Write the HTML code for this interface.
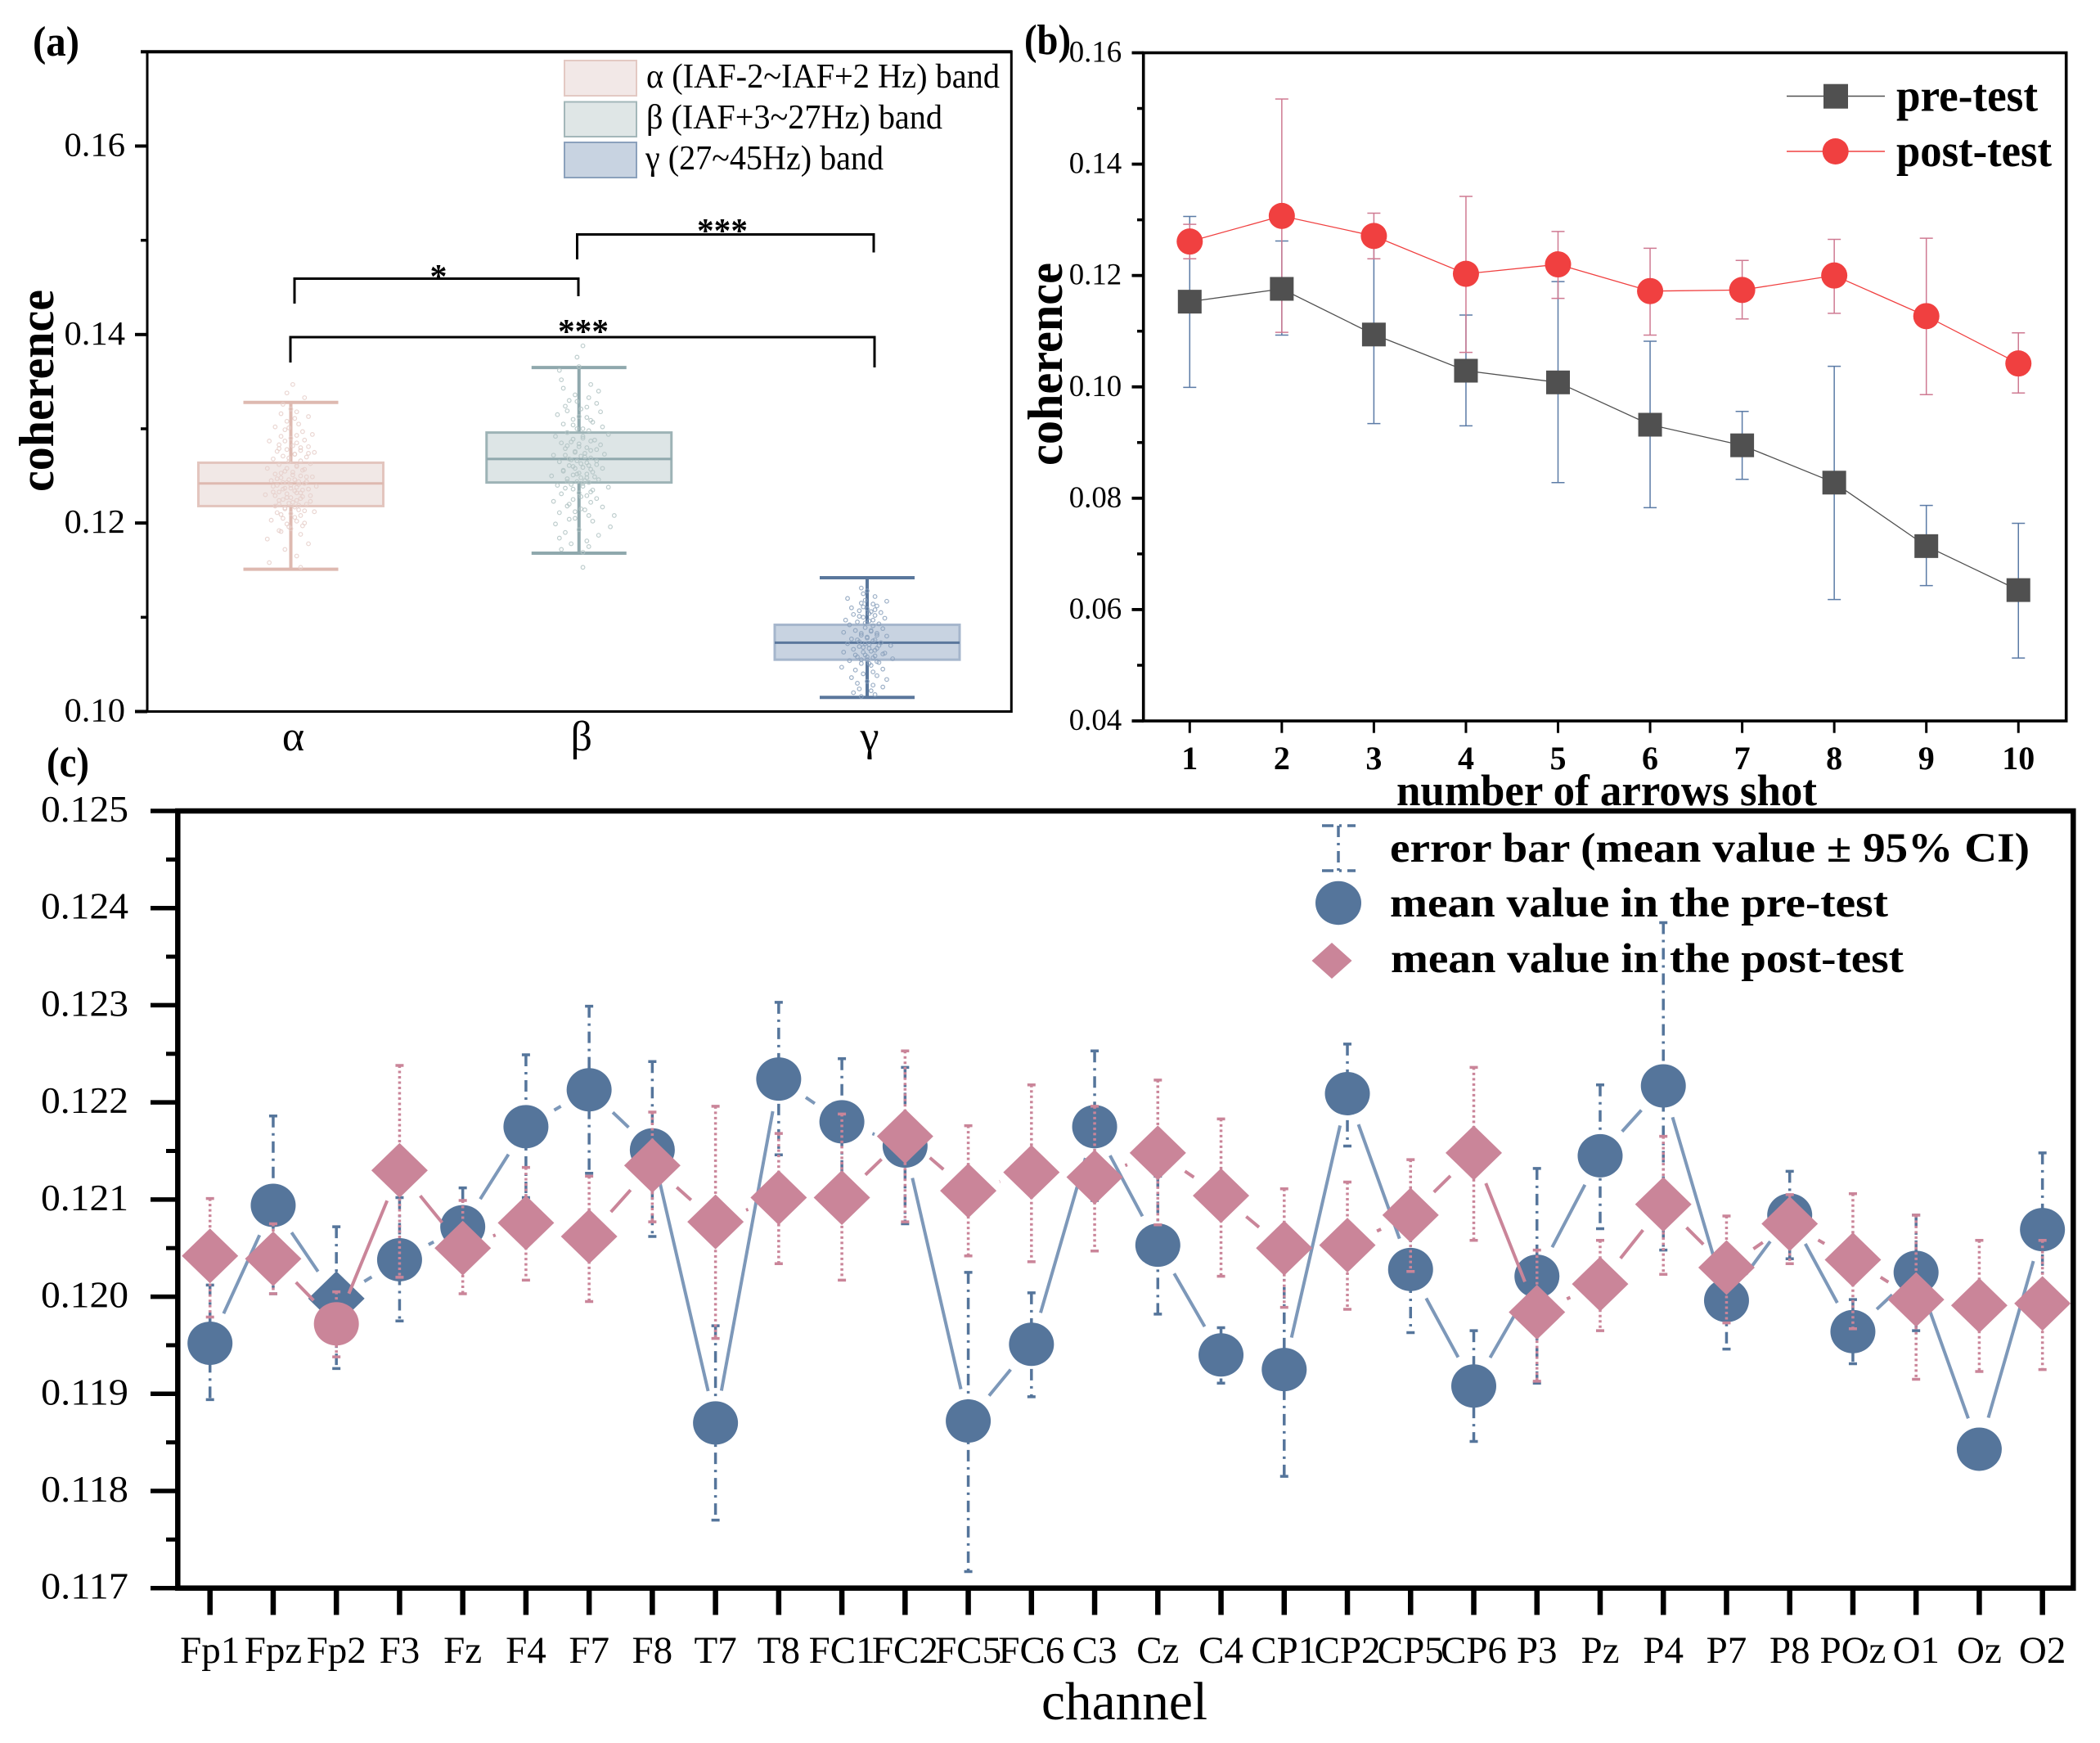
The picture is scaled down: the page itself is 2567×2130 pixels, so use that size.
<!DOCTYPE html>
<html lang="en">
<head>
<meta charset="utf-8">
<title>Coherence figure</title>
<style>
html,body{margin:0;padding:0;background:#fff;width:2567px;height:2130px;overflow:hidden}
svg{display:block}
text{font-family:"Liberation Serif","DejaVu Serif",serif;fill:#000}
.b{font-weight:bold}
</style>
</head>
<body>
<svg id="fig" xmlns="http://www.w3.org/2000/svg" width="2567" height="2130" viewBox="0 0 2567 2130">
<rect x="0" y="0" width="2567" height="2130" fill="#fff"/>

<!-- panel a -->
<g id="panel-a">
  <g id="a-boxes"></g>
  <g id="a-scatter"></g>
  <g id="a-axes"></g>
  <rect x="180" y="63.3" width="1056.3" height="806.2" fill="none" stroke="#000" stroke-width="3"/>
  <line x1="172" x2="1237.5" y1="63.3" y2="63.3" stroke="#000" stroke-width="4"/>
  <text class="b" x="40" y="68" font-size="52" textLength="57" lengthAdjust="spacingAndGlyphs">(a)</text>
  <text class="b" transform="translate(65,601) rotate(-90)" font-size="60" textLength="247" lengthAdjust="spacingAndGlyphs">coherence</text>
  <g>
    <rect x="690" y="74" width="88" height="43" fill="#f2e8e7" stroke="#e3c9c3" stroke-width="2"/>
    <rect x="690" y="124.5" width="88" height="42.5" fill="#dfe6e6" stroke="#a3b7b9" stroke-width="2"/>
    <rect x="690" y="174" width="88" height="43" fill="#c8d3e1" stroke="#8ba1bc" stroke-width="2"/>
    <text x="790" y="107" font-size="42" textLength="432" lengthAdjust="spacingAndGlyphs">α (IAF-2~IAF+2 Hz) band</text>
    <text x="790" y="157" font-size="42" textLength="362" lengthAdjust="spacingAndGlyphs">β (IAF+3~27Hz) band</text>
    <text x="789" y="207" font-size="42" textLength="291" lengthAdjust="spacingAndGlyphs">γ (27~45Hz) band</text>
  </g>
  <g fill="none" stroke="#000" stroke-width="3">
    <path d="M360 371V340.5H707V362"/>
    <path d="M705.5 317V286.5H1068V308.5"/>
    <path d="M355 443V412H1069V449"/>
  </g>
  <text class="b" x="536" y="352" font-size="42" text-anchor="middle">*</text>
  <text class="b" x="883" y="296" font-size="42" text-anchor="middle" textLength="62" lengthAdjust="spacingAndGlyphs">***</text>
  <text class="b" x="713" y="419" font-size="42" text-anchor="middle" textLength="62" lengthAdjust="spacingAndGlyphs">***</text>
</g>

<!-- panel b -->
<g id="panel-b">
  <g id="b-series"></g>
  <g id="b-axes"></g>
  <rect x="1397.7" y="64.5" width="1128" height="816.5" fill="none" stroke="#000" stroke-width="3.6"/>
  <text class="b" x="1252" y="66" font-size="52" textLength="57" lengthAdjust="spacingAndGlyphs">(b)</text>
  <text class="b" transform="translate(1298,569) rotate(-90)" font-size="60" textLength="248" lengthAdjust="spacingAndGlyphs">coherence</text>
  <text class="b" x="1707" y="984" font-size="54" textLength="514" lengthAdjust="spacingAndGlyphs">number of arrows shot</text>
  <g>
    <line x1="2184" x2="2304" y1="117.5" y2="117.5" stroke="#505050" stroke-width="1.5"/>
    <rect x="2229" y="102.7" width="30" height="30" fill="#505050"/>
    <text class="b" x="2318" y="135.5" font-size="56" textLength="173" lengthAdjust="spacingAndGlyphs">pre-test</text>
    <line x1="2184" x2="2304" y1="185" y2="185" stroke="#f04040" stroke-width="1.5"/>
    <circle cx="2243.7" cy="185" r="16" fill="#f04040"/>
    <text class="b" x="2318" y="203" font-size="56" textLength="190" lengthAdjust="spacingAndGlyphs">post-test</text>
  </g>
</g>

<!-- panel c -->
<g id="panel-c">
  <g id="c-series"></g>
  <g id="c-axes"></g>
  <rect x="217.3" y="991" width="2317" height="949.7" fill="none" stroke="#000" stroke-width="6.5"/>
  <text class="b" x="57" y="949" font-size="52" textLength="52" lengthAdjust="spacingAndGlyphs">(c)</text>
  <text x="1273" y="2101" font-size="66" textLength="203" lengthAdjust="spacingAndGlyphs">channel</text>
  <g>
    <g fill="none" stroke="#55759b" stroke-width="3.5">
      <line x1="1636" x2="1636" y1="1009" y2="1064" stroke-dasharray="14 7 3 7"/>
      <line x1="1616" x2="1657" y1="1009" y2="1009" stroke-dasharray="14 7 3 7"/>
      <line x1="1616" x2="1657" y1="1064" y2="1064" stroke-dasharray="14 7 3 7"/>
    </g>
    <text class="b" x="1699" y="1053" font-size="51" textLength="782" lengthAdjust="spacingAndGlyphs">error bar (mean value ± 95% CI)</text>
    <ellipse cx="1636" cy="1103.5" rx="28" ry="26.7" fill="#55759b"/>
    <text class="b" x="1699" y="1120" font-size="51" textLength="609" lengthAdjust="spacingAndGlyphs">mean value in the pre-test</text>
    <path d="M1628 1152L1652.5 1174L1628 1196L1603.5 1174Z" fill="#ca8599"/>
    <text class="b" x="1700" y="1188" font-size="51" textLength="627" lengthAdjust="spacingAndGlyphs">mean value in the post-test</text>
  </g>
</g>
</svg>

<script>
/* ---------- panel a data ---------- */
const aCategories = ['α', 'β', 'γ'];
const aWhiskerHigh = [0.1328, 0.1365, 0.1142];
const aQ3 = [0.1264, 0.1296, 0.1092];
const aMedian = [0.1242, 0.1268, 0.1073];
const aQ1 = [0.1218, 0.1243, 0.1055];
const aWhiskerLow = [0.1151, 0.1168, 0.1015];
const aYTicks = ['0.10', '0.12', '0.14', '0.16'];
const aYMinor = [0.11, 0.13, 0.15, 0.17];
/* each scatter point: [jitter in category units, coherence] */
const aScatterAlpha = [[.01,.1347],[-.02,.1338],[.07,.1333],[-.04,.1326],[.0,.1321],[.03,.1318],[-.05,.1316],[.09,.1313],[.02,.1311],[-.02,.1308],[.04,.1305],[-.08,.1302],[-.03,.1299],[.06,.1297],[.11,.1294],[-.05,.1292],[.0,.129],[.07,.1288],[-.11,.1287],[.03,.1285],[-.06,.1283],[.09,.1281],[.05,.128],[-.02,.1278],[-.07,.1276],[.12,.1275],[.02,.1273],[-.04,.1271],[.08,.127],[-.09,.1268],[.05,.1266],[-.01,.1265],[.1,.1263],[-.06,.1262],[.03,.126],[-.12,.1258],[.07,.1257],[-.03,.1255],[.01,.1254],[-.08,.1252],[.05,.125],[.11,.1249],[-.05,.1248],[.02,.1246],[-.1,.1245],[.08,.1244],[-.02,.1243],[.04,.1241],[-.07,.124],[.13,.1239],[.0,.1237],[-.04,.1236],[.06,.1235],[-.09,.1233],[.03,.1232],[-.13,.123],[.1,.1229],[-.02,.1227],[.05,.1226],[-.06,.1224],[.01,.1222],[.08,.122],[-.08,.1218],[-.03,.1216],[.04,.1214],[.12,.1212],[-.05,.1209],[.02,.1206],[-.1,.1203],[.07,.12],[-.01,.1196],[-.06,.1192],[.05,.1188],[-.12,.1183],[.09,.1178],[-.03,.1172],[.03,.1165],[-.11,.1158],[.05,.1153]];
const aExtraAlpha = [[.03,.1261],[-.02,.1258],[.06,.1256],[-.05,.1253],[.01,.1251],[.08,.1249],[-.07,.1247],[-.01,.1246],[.04,.1244],[-.04,.1243],[.07,.1242],[.0,.124],[-.09,.1239],[.03,.1238],[-.03,.1237],[.09,.1236],[.02,.1234],[-.06,.1233],[.05,.1232],[-.02,.1231],[-.08,.1229],[.06,.1228],[.0,.1227],[-.04,.1225],[.03,.1224],[.1,.1223],[-.01,.1221],[-.06,.122],[.04,.1219],[.02,.1217],[-.03,.1215],[.07,.1213],[-.07,.1211],[.0,.121],[.05,.1208],[-.04,.1205],[.03,.1202],[-.02,.1199],[.06,.1197],[.0,.1194],[-.05,.1191],[.02,.1273],[-.01,.1269],[.05,.1277],[-.06,.1279],[.09,.1274],[.01,.1282],[-.03,.1287],[.03,.1293],[-.01,.1301]];
const aScatterBeta = [[.02,.1388],[-.01,.1376],[.0,.1366],[-.1,.1362],[-.09,.1352],[.06,.1347],[-.08,.1343],[.1,.134],[-.02,.1336],[.05,.1333],[-.05,.133],[.09,.1327],[-.07,.1324],[.01,.1321],[.11,.1318],[-.11,.1315],[.04,.1312],[-.03,.131],[.07,.1307],[-.08,.1305],[.12,.1302],[-.01,.13],[.05,.1298],[-.06,.1296],[.15,.1294],[-.12,.1292],[.02,.129],[.08,.1288],[-.04,.1286],[-.09,.1285],[.11,.1283],[.0,.1281],[-.07,.1279],[.06,.1277],[-.02,.1275],[.13,.1273],[-.13,.1272],[.03,.127],[-.05,.1268],[.09,.1266],[-.1,.1265],[.01,.1263],[.05,.1261],[-.03,.126],[.12,.1258],[-.08,.1256],[.07,.1254],[-.01,.1252],[-.14,.125],[.04,.1248],[.1,.1246],[-.06,.1244],[.02,.1242],[-.11,.124],[.15,.1238],[-.03,.1236],[.06,.1233],[-.09,.1231],[.01,.1228],[.09,.1226],[-.13,.1223],[-.05,.122],[.12,.1217],[.03,.1214],[-.1,.1211],[.18,.1208],[-.02,.1205],[.07,.1202],[-.12,.1199],[.16,.1196],[.0,.1193],[-.07,.119],[.1,.1187],[-.1,.1184],[.04,.1181],[-.04,.1178],[.05,.1175],[-.09,.1172],[.02,.1169],[.02,.1153]];
const aExtraBeta = [[.02,.1292],[-.03,.1289],[.06,.1287],[.0,.1284],[-.06,.1282],[.04,.128],[.09,.1278],[-.02,.1276],[.03,.1274],[-.07,.1272],[.01,.1271],[.06,.1269],[-.04,.1267],[-.01,.1266],[.04,.1264],[.09,.1262],[-.05,.1261],[.02,.1259],[-.02,.1258],[.06,.1257],[-.08,.1255],[.0,.1253],[.04,.1252],[-.03,.1251],[.08,.1249],[.01,.1248],[-.06,.1247],[.03,.1245],[-.01,.1244],[.05,.1243],[-.04,.1241],[.02,.1239],[-.07,.1237],[.07,.1235],[.0,.1232],[.04,.1229],[-.03,.1225],[.06,.1222],[-.06,.1218],[.01,.1215],[-.02,.1212],[.05,.1208],[-.05,.1204],[.02,.13],[-.03,.1304],[.06,.1309],[.0,.1313],[-.06,.1319],[.04,.1323],[-.01,.1329]];
const aScatterGamma = [[-.03,.1131],[.0,.1128],[-.02,.1125],[.04,.1122],[-.1,.112],[-.01,.1118],[.1,.1117],[-.03,.1115],[.03,.1114],[.05,.1112],[-.08,.111],[.0,.1109],[-.04,.1107],[.02,.1106],[.07,.1105],[-.07,.1103],[.04,.1102],[-.02,.11],[.09,.1099],[-.11,.1097],[.01,.1096],[-.05,.1095],[.06,.1093],[-.09,.1092],[.03,.1091],[-.01,.1089],[.08,.1088],[-.06,.1086],[.02,.1085],[-.12,.1084],[.05,.1083],[-.03,.1081],[.1,.108],[.0,.1078],[-.08,.1077],[.04,.1076],[-.04,.1074],[.07,.1073],[-.1,.1072],[.01,.1071],[.12,.107],[-.02,.1068],[.05,.1067],[-.07,.1066],[.02,.1064],[-.12,.1063],[.09,.1062],[-.01,.106],[.04,.1059],[-.05,.1058],[.13,.1056],[.0,.1055],[-.09,.1054],[.06,.1052],[-.03,.1051],[.02,.1049],[-.13,.1047],[.08,.1045],[-.06,.1044],[.03,.1042],[-.02,.104],[.05,.1038],[-.08,.1036],[.1,.1034],[.0,.1032],[-.05,.103],[.03,.1028],[.08,.1026],[-.04,.1024],[.02,.1022],[-.07,.102],[.04,.1018],[-.03,.1016]];
const aExtraGamma = [[.02,.1086],[-.03,.1083],[.05,.1081],[.0,.1079],[-.05,.1076],[.03,.1075],[-.01,.1072],[.06,.107],[-.04,.1069],[.01,.1067],[.04,.1065],[-.02,.1063],[.08,.1061],[-.06,.106],[.0,.1058],[.03,.1057],[-.03,.1055],[.05,.1053],[.01,.1051],[-.01,.1094],[.03,.1097],[-.04,.1101],[.01,.1104],[.04,.1108],[-.02,.1111]];
const aScatter = [aScatterAlpha.concat(aExtraAlpha), aScatterBeta.concat(aExtraBeta), aScatterGamma.concat(aExtraGamma)];
const aJitterScale = 0.68;
const aFill = ['#f1e8e6', '#dde5e6', '#c8d3e1'];
const aEdge = ['#e3c5be', '#9db3b6', '#a5b6cc'];
const aLineColor = ['#deb9b0', '#8fa8ad', '#5a779c'];
const aDotColor = ['#e6cfca', '#b3c4c4', '#8ba1bc'];

/* ---------- panel b data ---------- */
const bArrows = ['1', '2', '3', '4', '5', '6', '7', '8', '9', '10'];
const bYTicks = ['0.04', '0.06', '0.08', '0.10', '0.12', '0.14', '0.16'];
const bYMinor = [0.05, 0.07, 0.09, 0.11, 0.13, 0.15];
const bPre = [0.1153, 0.1176, 0.1094, 0.1029, 0.1008, 0.0932, 0.0895, 0.0828, 0.0714, 0.0635];
const bPreHigh = [0.1306, 0.1262, 0.1254, 0.1129, 0.1189, 0.1082, 0.0956, 0.1037, 0.0787, 0.0755];
const bPreLow = [0.0999, 0.1093, 0.0934, 0.0930, 0.0828, 0.0783, 0.0834, 0.0618, 0.0643, 0.0513];
const bPost = [0.1261, 0.1307, 0.1271, 0.1203, 0.1220, 0.1172, 0.1174, 0.1200, 0.1127, 0.1042];
const bPostHigh = [0.1292, 0.1517, 0.1312, 0.1342, 0.1279, 0.1249, 0.1227, 0.1265, 0.1267, 0.1097];
const bPostLow = [0.1230, 0.1098, 0.1230, 0.1062, 0.1159, 0.1093, 0.1122, 0.1132, 0.0986, 0.0989];

/* ---------- panel c data ---------- */
const cChannels = ['Fp1','Fpz','Fp2','F3','Fz','F4','F7','F8','T7','T8','FC1','FC2','FC5','FC6','C3','Cz','C4','CP1','CP2','CP5','CP6','P3','Pz','P4','P7','P8','POz','O1','Oz','O2'];
const cYTicks = ['0.117', '0.118', '0.119', '0.120', '0.121', '0.122', '0.123', '0.124', '0.125'];
const cYMinor = [0.1175, 0.1185, 0.1195, 0.1205, 0.1215, 0.1225, 0.1235, 0.1245];
const cPre = [.11952,.12094,.11998,.12038,.12072,.12175,.12213,.12151,.11870,.12224,.12180,.12155,.11872,.11951,.12175,.12053,.11940,.11925,.12209,.12028,.11908,.12021,.12145,.12217,.11996,.12084,.11964,.12025,.11843,.12069];
const cPreHigh = [.12012,.12186,.12072,.12102,.12112,.12249,.12299,.12242,.11970,.12303,.12245,.12236,.12025,.12004,.12253,.12124,.11968,.12036,.12260,.12094,.11965,.12132,.12218,.12385,.12042,.12129,.11997,.12084,.11853,.12148];
const cPreLow = [.11894,.12003,.11926,.11975,.12032,.12102,.12127,.12062,.11770,.12146,.12116,.12075,.11717,.11897,.12099,.11982,.11911,.11815,.12155,.11963,.11851,.11911,.12070,.12048,.11946,.12039,.11931,.11965,.11833,.12000];
const cPost = [.12042,.12039,.11972,.12130,.12050,.12076,.12062,.12135,.12077,.12102,.12102,.12165,.12109,.12128,.12123,.12148,.12104,.12050,.12053,.12084,.12148,.11984,.12013,.12095,.12030,.12075,.12038,.11997,.11991,.11993];
const cPostHigh = [.12101,.12075,.12005,.12238,.12099,.12133,.12124,.12190,.12196,.12168,.12188,.12253,.12176,.12218,.12196,.12223,.12183,.12111,.12118,.12141,.12236,.12048,.12058,.12165,.12083,.12105,.12106,.12084,.12058,.12058];
const cPostLow = [.11979,.12003,.11938,.12020,.12003,.12017,.11995,.12077,.11957,.12034,.12017,.12077,.12042,.12036,.12047,.12074,.12021,.11989,.11987,.12026,.12058,.11913,.11965,.12023,.11973,.12034,.11967,.11915,.11923,.11925];
/* Channel whose pre/post symbols are swapped in the figure */
const cSwappedChannel = 'Fp2';

/* ---------- helpers ---------- */
const NS = 'http://www.w3.org/2000/svg';
function mk(parent, tag, attrs, txt) {
  const el = document.createElementNS(NS, tag);
  for (const k in attrs) el.setAttribute(k, attrs[k]);
  if (txt !== undefined) el.textContent = txt;
  parent.appendChild(el);
  return el;
}
function diamondPath(x, y, hw, hh) {
  return 'M' + x + ' ' + (y - hh) + 'L' + (x + hw) + ' ' + y + 'L' + x + ' ' + (y + hh) + 'L' + (x - hw) + ' ' + y + 'Z';
}

/* ---------- panel a ---------- */
(function () {
  const yA = v => 869.5 - (v - 0.10) / 0.07 * 806.2;
  const xA = c => 355.5 + c * 352.25;
  const scatterG = document.getElementById('a-scatter');
  const boxG = document.getElementById('a-boxes');
  const axG = document.getElementById('a-axes');
  aCategories.forEach((cat, i) => {
    aScatter[i].forEach(p => {
      const d = mk(scatterG, 'circle', {cx: xA(i + p[0] * aJitterScale), cy: yA(p[1]), r: 2.3, fill: 'none', stroke: aDotColor[i], 'stroke-width': 1.2, opacity: 0.85});
      
      
    });
    const cx = xA(i);
    const stem = mk(boxG, 'path', {d: 'M' + cx + ' ' + yA(aWhiskerHigh[i]) + 'V' + yA(aQ3[i]) + 'M' + cx + ' ' + yA(aQ1[i]) + 'V' + yA(aWhiskerLow[i]), stroke: aLineColor[i], 'stroke-width': 4, fill: 'none'});
    
    
    const capHi = mk(boxG, 'line', {x1: cx - 58, x2: cx + 58, y1: yA(aWhiskerHigh[i]), y2: yA(aWhiskerHigh[i]), stroke: aLineColor[i], 'stroke-width': 4});
    
    
    const capLo = mk(boxG, 'line', {x1: cx - 58, x2: cx + 58, y1: yA(aWhiskerLow[i]), y2: yA(aWhiskerLow[i]), stroke: aLineColor[i], 'stroke-width': 4});
    
    
    const box = mk(boxG, 'rect', {x: cx - 113, y: yA(aQ3[i]), width: 226, height: yA(aQ1[i]) - yA(aQ3[i]), fill: aFill[i], stroke: aEdge[i], 'stroke-width': 3});
    
    
    const med = mk(boxG, 'line', {x1: cx - 113, x2: cx + 113, y1: yA(aMedian[i]), y2: yA(aMedian[i]), stroke: aLineColor[i], 'stroke-width': 3});
    
    
    const lab = mk(axG, 'text', {x: cx + 3, y: 917, 'font-size': 52, 'text-anchor': 'middle'}, cat);
    
    
  });
  aYTicks.forEach(t => {
    const y = yA(parseFloat(t));
    const tk = mk(axG, 'line', {x1: 165, x2: 180, y1: y, y2: y, stroke: '#000', 'stroke-width': 4});
    
    
    const lb = mk(axG, 'text', {x: 78.5, y: y + 12, 'font-size': 41, textLength: 74.5, lengthAdjust: 'spacingAndGlyphs'}, t);
    
    
  });
  aYMinor.forEach(v => {
    const y = yA(v);
    const tk = mk(axG, 'line', {x1: 172, x2: 180, y1: y, y2: y, stroke: '#000', 'stroke-width': 3.5});
    
    
  });
})();

/* ---------- panel b ---------- */
(function () {
  const yB = v => 881 - (v - 0.04) / 0.12 * 816.5;
  const xB = i => 1454.3 + i * 112.55;
  const g = document.getElementById('b-series');
  const axG = document.getElementById('b-axes');
  function series(vals, hi, lo, lineColor, errColor, name) {
    const pts = vals.map((v, i) => xB(i) + ',' + yB(v)).join(' ');
    const pl = mk(g, 'polyline', {points: pts, fill: 'none', stroke: lineColor, 'stroke-width': 1.3});
    
    
    vals.forEach((v, i) => {
      const x = xB(i);
      const e = mk(g, 'path', {d: 'M' + x + ' ' + yB(hi[i]) + 'V' + yB(lo[i]) + 'M' + (x - 8) + ' ' + yB(hi[i]) + 'H' + (x + 8) + 'M' + (x - 8) + ' ' + yB(lo[i]) + 'H' + (x + 8), fill: 'none', stroke: errColor, 'stroke-width': 1.5});
      
      
    });
  }
  series(bPre, bPreHigh, bPreLow, '#505050', '#5b7ba6', 'pre-test');
  series(bPost, bPostHigh, bPostLow, '#f04040', '#cf7a92', 'post-test');
  bPre.forEach((v, i) => {
    const m = mk(g, 'rect', {x: xB(i) - 14.5, y: yB(v) - 14.5, width: 29, height: 29, fill: '#505050'});
    
    
  });
  bPost.forEach((v, i) => {
    const m = mk(g, 'circle', {cx: xB(i), cy: yB(v), r: 16, fill: '#f04040'});
    
    
  });
  bYTicks.forEach(t => {
    const y = yB(parseFloat(t));
    const tk = mk(axG, 'line', {x1: 1383.5, x2: 1398, y1: y, y2: y, stroke: '#000', 'stroke-width': 3.8});
    
    
    const lb = mk(axG, 'text', {x: 1306.7, y: y + 11, 'font-size': 37, textLength: 64.5, lengthAdjust: 'spacingAndGlyphs'}, t);
    
    
  });
  bYMinor.forEach(v => {
    const y = yB(v);
    const tk = mk(axG, 'line', {x1: 1390, x2: 1398, y1: y, y2: y, stroke: '#000', 'stroke-width': 3.5});
    
    
  });
  bArrows.forEach((t, i) => {
    const tk = mk(axG, 'line', {x1: xB(i), x2: xB(i), y1: 881, y2: 895.7, stroke: '#000', 'stroke-width': 3});
    
    
    const lb = mk(axG, 'text', {x: xB(i), y: 940, 'font-size': 40, 'font-weight': 'bold', 'text-anchor': 'middle'}, t);
    
    
  });
})();

/* ---------- panel c ---------- */
(function () {
  const yC = v => 1940.7 - (v - 0.117) / 0.008 * 949.7;
  const xC = i => 256.7 + i * 77.24;
  const g = document.getElementById('c-series');
  const axG = document.getElementById('c-axes');
  const BLUE = '#55759b', BLUE_LINE = '#7d98b9', PINK = '#ca8599';
  function gapLines(vals, color, gap, name) {
    for (let i = 0; i < vals.length - 1; i++) {
      const x1 = xC(i), y1 = yC(vals[i]), x2 = xC(i + 1), y2 = yC(vals[i + 1]);
      const len = Math.hypot(x2 - x1, y2 - y1);
      if (len <= 2 * gap) continue;
      const ux = (x2 - x1) / len, uy = (y2 - y1) / len;
      const s = mk(g, 'line', {x1: x1 + ux * gap, y1: y1 + uy * gap, x2: x2 - ux * gap, y2: y2 - uy * gap, stroke: color, 'stroke-width': 4});
      
      
    }
  }
  function errs(hi, lo, color, dash, name) {
    hi.forEach((h, i) => {
      const x = xC(i);
      const e = mk(g, 'line', {x1: x, x2: x, y1: yC(h), y2: yC(lo[i]), stroke: color, 'stroke-width': 3.5, 'stroke-dasharray': dash});
      
      
      const c = mk(g, 'path', {d: 'M' + (x - 5) + ' ' + yC(h) + 'H' + (x + 5) + 'M' + (x - 5) + ' ' + yC(lo[i]) + 'H' + (x + 5), stroke: color, 'stroke-width': 3.5, fill: 'none'});
      
      
    });
  }
  function marker(i, v, color, round, name) {
    let m;
    if (round) {
      m = mk(g, 'ellipse', {cx: xC(i), cy: yC(v), rx: 27.5, ry: 26.5, fill: color});
    } else {
      m = mk(g, 'path', {d: diamondPath(xC(i), yC(v), 34.5, 33.5), fill: color});
    }
    
    
  }
  gapLines(cPre, BLUE_LINE, 40, 'pre-test');
  errs(cPreHigh, cPreLow, BLUE, '14 7 3 7', 'pre-test');
  cChannels.forEach((c, i) => marker(i, cPre[i], BLUE, c !== cSwappedChannel, 'pre-test'));
  gapLines(cPost, PINK, 40, 'post-test');
  errs(cPostHigh, cPostLow, PINK, '3 3.5', 'post-test');
  cChannels.forEach((c, i) => marker(i, cPost[i], PINK, c === cSwappedChannel, 'post-test'));

  cYTicks.forEach(t => {
    const y = yC(parseFloat(t));
    const tk = mk(axG, 'line', {x1: 184, x2: 217, y1: y, y2: y, stroke: '#000', 'stroke-width': 5.5});
    
    
    const lb = mk(axG, 'text', {x: 50, y: y + 13, 'font-size': 45, textLength: 107, lengthAdjust: 'spacingAndGlyphs'}, t);
    
    
  });
  cYMinor.forEach(v => {
    const y = yC(v);
    const tk = mk(axG, 'line', {x1: 203, x2: 217, y1: y, y2: y, stroke: '#000', 'stroke-width': 5});
    
    
  });
  cChannels.forEach((t, i) => {
    const tk = mk(axG, 'line', {x1: xC(i), x2: xC(i), y1: 1941, y2: 1973.5, stroke: '#000', 'stroke-width': 6.5});
    
    
    const lb = mk(axG, 'text', {x: xC(i), y: 2032, 'font-size': 47, 'text-anchor': 'middle'}, t);
    
    
  });
})();
</script>
</body>
</html>
